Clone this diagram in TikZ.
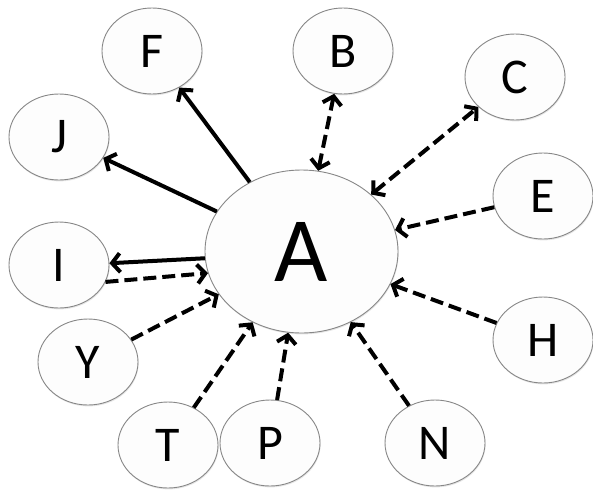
\documentclass[tikz,border=0pt]{standalone}
\usepackage{fontspec}
\setmainfont{Carlito}
\usetikzlibrary{shapes.geometric,arrows.meta,shadows}
\definecolor{NodeFill}{RGB}{253,253,253}
\definecolor{NodeEdge}{RGB}{135,135,135}

\begin{document}
\begin{tikzpicture}[x=1pt, y=-1pt,
    >={Straight Barb[length=8pt,width=19pt]},
    peer/.style={ellipse, draw=NodeEdge, line width=0.9pt, fill=NodeFill,
      minimum width=100pt, minimum height=86pt, inner sep=0pt,
      font=\fontsize{50}{56}\selectfont,
      drop shadow={shadow xshift=0.6pt, shadow yshift=-1.4pt, opacity=0.2}},
    hub/.style={peer, minimum width=193pt, minimum height=163pt,
      font=\fontsize{92}{100}\selectfont},
    link/.style={->, line width=4pt},
    dlink/.style={link, dash pattern=on 13pt off 6pt}]
  \useasboundingbox (0,0) rectangle (593,493);

  % centre node
  \node[hub] (A) at (301.5,251.5) {A};

  % ring of small nodes
  \node[peer] (F) at (152,51)  {F};
  \node[peer] (B) at (343,51)  {B};
  \node[peer] (C) at (515,77)  {C};
  \node[peer] (J) at (59,137)  {J};
  \node[peer] (E) at (543,196) {E};
  \node[peer] (I) at (59,265)  {I};
  \node[peer] (H) at (543,340) {H};
  \node[peer] (Y) at (88,362)  {Y};
  \node[peer] (T) at (168,445) {T};
  \node[peer] (P) at (270,443) {P};
  \node[peer] (N) at (435,443) {N};

  % outgoing
  \draw[link] (A) -- (F);
  \draw[link] (A) -- (J);
  \draw[link] (A.184) -- (I.2);

  % both ways
  \draw[dlink, <->] (A) -- (B);
  \draw[dlink, <->] (A) -- (C);

  % incoming
  \draw[dlink] (I.-20) -- (A.193);
  \draw[dlink] (E) -- (A);
  \draw[dlink] (H) -- (A);
  \draw[dlink] (Y) -- (A);
  \draw[dlink] (T) -- (A);
  \draw[dlink] (P) -- (A);
  \draw[dlink] (N) -- (A);
\end{tikzpicture}
\end{document}
